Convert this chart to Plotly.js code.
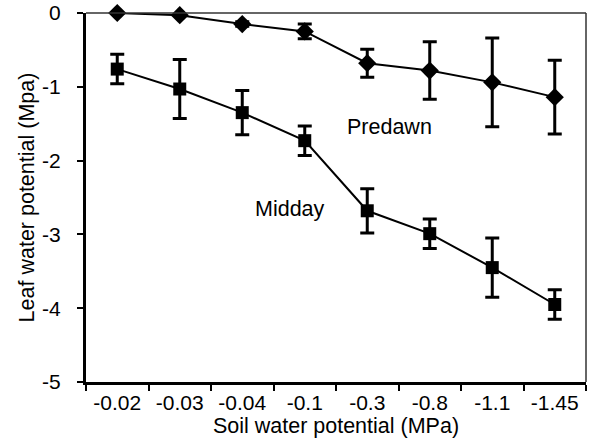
<!DOCTYPE html>
<html><head><meta charset="utf-8">
<script src="https://cdn.plot.ly/plotly-3.0.1.min.js"></script>
<style>html,body{margin:0;padding:0;background:#fff}</style>
</head><body><div id="c" style="width:591px;height:440px"></div>
<script>
const categories = ["-0.02","-0.03","-0.04","-0.1","-0.3","-0.8","-1.1","-1.45"];
const predawn = [0, -0.03, -0.15, -0.25, -0.68, -0.78, -0.94, -1.14];
const predawnErr = [0, 0, 0.03, 0.1, 0.19, 0.39, 0.6, 0.5];
const midday = [-0.76, -1.03, -1.35, -1.73, -2.68, -2.99, -3.45, -3.95];
const middayErr = [0.2, 0.4, 0.3, 0.2, 0.3, 0.2, 0.4, 0.2];
const yTicks = [0, -1, -2, -3, -4, -5];

const fam = "Liberation Sans, Arial, sans-serif";
const tickFont = {family: fam, size: 21, color: "#000"};
const titleFont = {family: fam, size: 21.5, color: "#000"};
const annFont = {family: fam, size: 21.5, color: "#000"};
const traces = [
  {x: categories, y: predawn, type: "scatter", mode: "lines+markers", name: "Predawn",
   line: {color: "#000", width: 2}, marker: {symbol: "diamond", size: 14, color: "#000"},
   error_y: {type: "data", array: predawnErr, visible: true, color: "#000", thickness: 3, width: 7},
   cliponaxis: false},
  {x: categories, y: midday, type: "scatter", mode: "lines+markers", name: "Midday",
   line: {color: "#000", width: 2}, marker: {symbol: "square", size: 13, color: "#000"},
   error_y: {type: "data", array: middayErr, visible: true, color: "#000", thickness: 3, width: 7},
   cliponaxis: false}
];
const layout = {
  width: 591, height: 440,
  margin: {l: 86, r: 5, t: 13, b: 58},
  paper_bgcolor: "#fff", plot_bgcolor: "#fff",
  font: tickFont, showlegend: false,
  xaxis: {type: "category", range: [-0.5, 7.5], showline: true, linewidth: 3, linecolor: "#000",
    ticks: "outside", tickson: "boundaries", ticklen: 6, tickwidth: 2, tickcolor: "#000",
    showgrid: false, zeroline: false, tickfont: tickFont, ticklabelstandoff: 0,
    title: {text: "Soil water potential (MPa)", font: titleFont, standoff: 0}},
  yaxis: {range: [-5, 0], tickvals: yTicks, ticktext: yTicks.map(String), showline: true, linewidth: 3,
    linecolor: "#000", ticks: "outside", ticklen: 6, tickwidth: 2, tickcolor: "#000",
    showgrid: false, zeroline: false, tickfont: tickFont, ticklabelstandoff: 12,
    title: {text: "Leaf water potential (Mpa)", font: titleFont, standoff: 2}},
  shapes: [
    {type: "line", xref: "paper", yref: "paper", x0: 0, x1: 1, y0: 1, y1: 1, line: {color: "#333", width: 1.5}},
    {type: "line", xref: "paper", yref: "paper", x0: 1, x1: 1, y0: 0, y1: 1, line: {color: "#333", width: 1.5}}
  ],
  annotations: [
    {x: 4.35, y: -1.55, xref: "x", yref: "y", text: "Predawn", showarrow: false, font: annFont},
    {x: 2.76, y: -2.66, xref: "x", yref: "y", text: "Midday", showarrow: false, font: annFont}
  ]
};
Plotly.newPlot("c", traces, layout, {displayModeBar: false, staticPlot: true});
</script></body></html>
